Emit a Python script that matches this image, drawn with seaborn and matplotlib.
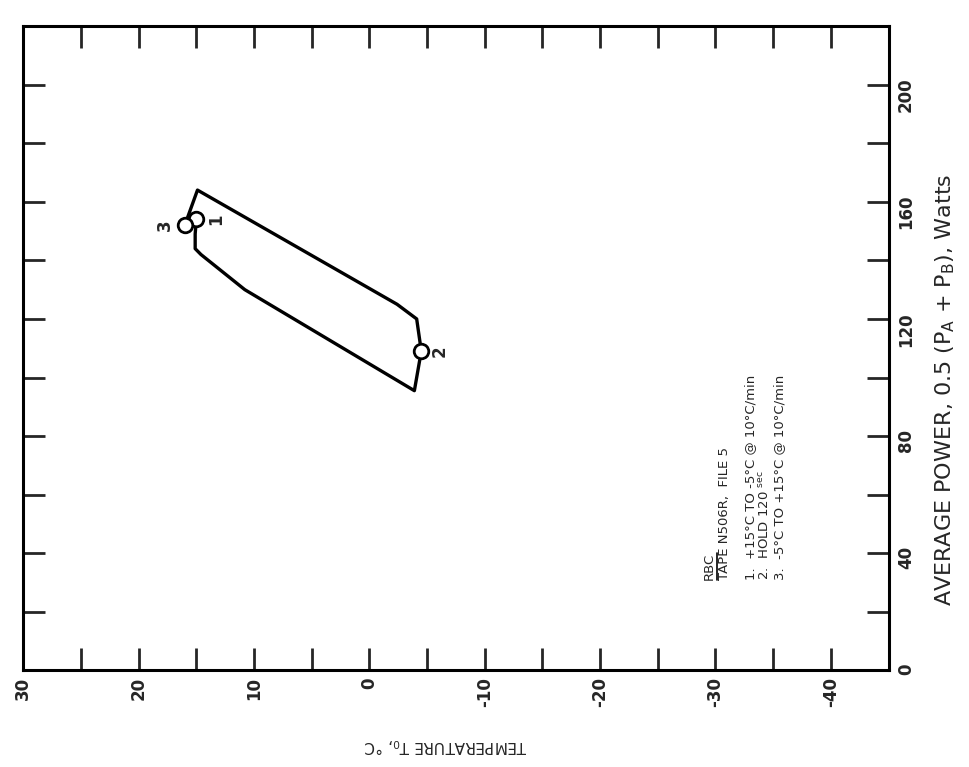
"""
RBC tape N506R file 5 - temperature vs average power loop (rotated page layout)
"""
import numpy as np
import pandas as pd
import matplotlib
matplotlib.use('Agg')
import matplotlib.pyplot as plt
from matplotlib.lines import Line2D
import seaborn as sns

# axis ticks
temp_ticks = [30, 20, 10, 0, -10, -20, -30, -40]
temp_minor = [25, 15, 5, -5, -15, -25, -35]
power_ticks = [0, 40, 80, 120, 160, 200]
power_minor = [20, 60, 100, 140, 180]

# loop path: 1 -> 2 (cooling), hold, 2 -> 3 (heating)
loop_temp = [15.0, 15.1, 15.1, 14.6, 10.8, -3.9, -4.5, -4.1, -2.4, 14.9, 16.0]
loop_power = [154, 149, 144, 142, 130, 95.5, 109, 120, 125, 164, 152]

# marked points
point_ids = ['1', '2', '3']
point_temp = [15.0, -4.5, 16.0]
point_power = [154, 109, 152]
point_dx = [14, 13, -14]

notes = [
    'RBC',
    'TAPE N506R,  FILE 5',
    '1.  +15°C TO -5°C @ 10°C/min',
    r'2.  HOLD 120 $^{\mathrm{sec}}$',
    '3.  -5°C TO +15°C @ 10°C/min',
]
note_x = [0.793, 0.810, 0.840, 0.857, 0.874]

sns.set_style('ticks')
plt.rcParams['font.family'] = ['DejaVu Sans']

fig = plt.figure(figsize=(9.7, 7.67), dpi=100)
ax = fig.add_axes([0.024, 0.126, 0.892, 0.84])

loop = pd.DataFrame({'temp': loop_temp, 'power': loop_power})
sns.lineplot(data=loop, x='temp', y='power', sort=False, estimator=None,
             color='black', lw=2.4, ax=ax)

pts = pd.DataFrame({'temp': point_temp, 'power': point_power, 'id': point_ids})
sns.scatterplot(data=pts, x='temp', y='power', s=110, color='white',
                edgecolor='black', linewidth=2, zorder=3, ax=ax)
for _, r in pts.iterrows():
    dx = point_dx[point_ids.index(r['id'])]
    ax.annotate(r['id'], (r['temp'], r['power']), xytext=(dx, 0),
                textcoords='offset points', rotation=90, fontsize=12,
                fontweight='bold', ha='center', va='center')

ax.set_xlim(30, -45)
ax.set_ylim(0, 220)
ax.set_xticks(temp_ticks)
ax.set_xticklabels([str(t) for t in temp_ticks])
ax.set_xticks(temp_minor, minor=True)
ax.set_yticks(power_ticks)
ax.set_yticklabels([str(p) for p in power_ticks])
ax.set_yticks(power_minor, minor=True)

ax.tick_params(which='both', direction='in', length=16, width=2,
               top=True, right=True, left=True, bottom=True,
               labelleft=False, labelright=True, labelsize=12)
ax.tick_params(axis='x', labelrotation=90, pad=5)
ax.tick_params(axis='y', labelrotation=90, pad=6)
for lab in ax.get_xticklabels() + ax.get_yticklabels():
    lab.set_fontweight('bold')
for s in ax.spines.values():
    s.set_visible(True)
    s.set_linewidth(2.2)
    s.set_color('black')

ax.set_xlabel('')
ax.set_ylabel('')
ax.text(0.488, -0.117, r'TEMPERATURE T$_0$, °C', transform=ax.transAxes,
        rotation=180, ha='center', va='center', fontsize=11)
ax.text(1.066, 0.436, r'AVERAGE POWER, 0.5 (P$_\mathrm{A}$ + P$_\mathrm{B}$), Watts',
        transform=ax.transAxes, rotation=90, ha='center', va='center', fontsize=16)

note_texts = []
for txt, x in zip(notes, note_x):
    note_texts.append(ax.text(x, 0.14, txt, transform=ax.transAxes, rotation=90,
                              rotation_mode='anchor', ha='left', va='center',
                              fontsize=9.5))

# underline the "RBC" heading (right side of the rotated text)
fig.canvas.draw()
bb = note_texts[0].get_window_extent()
fig.add_artist(Line2D([bb.x1 + 1, bb.x1 + 1], [bb.y0, bb.y1], color='black',
                      lw=1.2, transform=None))

fig.savefig('out.png', dpi=100)
plt.close(fig)
